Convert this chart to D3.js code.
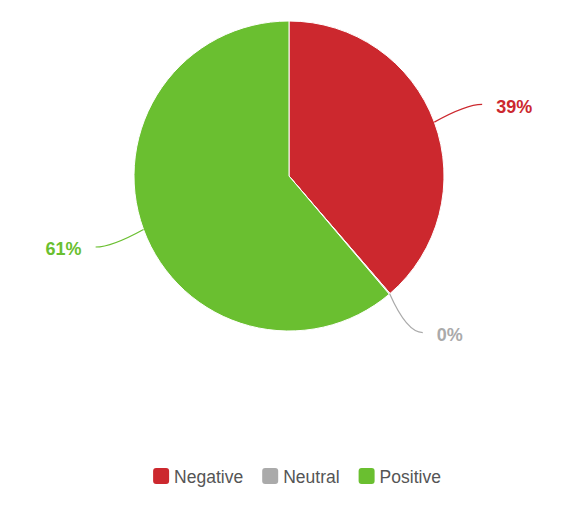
<!DOCTYPE html>
<html><head><meta charset="utf-8">
<script src="https://cdn.jsdelivr.net/npm/d3@7"></script>
<style>body{margin:0;background:#fff;}svg{display:block;font-family:"Liberation Sans",Arial,Helvetica,sans-serif;}</style>
</head><body>
<svg id="c" width="588" height="520"></svg>
<script>
const categories = ["Negative", "Neutral", "Positive"];
const values = [38.7, 0.1, 61.2];
const labels = ["39%", "0%", "61%"];
const colors = ["#cc282e", "#aaaaaa", "#6abf30"];

const svg = d3.select("#c");
const cx = 289, cy = 176, r = 155, lr = 206;
const data = categories.map((c, i) => ({name: c, value: values[i], label: labels[i], color: colors[i]}));
const pie = d3.pie().value(d => d.value).sort(null);
const arcs = pie(data);
const arc = d3.arc().innerRadius(0).outerRadius(r);
const g = svg.append("g").attr("transform", `translate(${cx},${cy})`);
g.selectAll("path.slice").data(arcs).enter().append("path")
  .attr("d", arc).attr("fill", d => d.data.color)
  .attr("stroke", "#fff").attr("stroke-width", 1).attr("stroke-linejoin", "round");

arcs.forEach(a => {
  const m = (a.startAngle + a.endAngle) / 2;
  const sx = Math.sin(m), sy = -Math.cos(m);
  const p0 = [r * sx, r * sy];
  const p1 = [lr * sx, lr * sy];
  const side = sx >= 0 ? 1 : -1;
  const ctrl = [p1[0] - side * 16, p1[1]];
  g.append("path")
    .attr("d", `M${p0[0]},${p0[1]} Q${ctrl[0]},${ctrl[1]} ${p1[0]},${p1[1]}`)
    .attr("fill", "none").attr("stroke", a.data.color).attr("stroke-width", 1.2);
  g.append("text")
    .attr("x", p1[0] + side * 14).attr("y", p1[1] + 8.5)
    .attr("text-anchor", side > 0 ? "start" : "end")
    .attr("font-size", "18px").attr("font-weight", "bold")
    .attr("fill", a.data.color).text(a.data.label);
});

// legend
const lg = svg.append("g");
let x = 0;
data.forEach(d => {
  const it = lg.append("g");
  it.append("rect").attr("x", 0).attr("y", -8).attr("width", 16).attr("height", 16)
    .attr("rx", 3).attr("fill", d.color);
  const t = it.append("text").attr("x", 21).attr("y", 6.5).attr("font-size", "17.5px")
    .attr("fill", "#555").text(d.name);
  const w = 21 + t.node().getComputedTextLength();
  it.attr("transform", `translate(${x},0)`);
  x += w + 19;
});
const totalW = x - 19;
lg.attr("transform", `translate(${297 - totalW / 2},476)`);
</script>
</body></html>
